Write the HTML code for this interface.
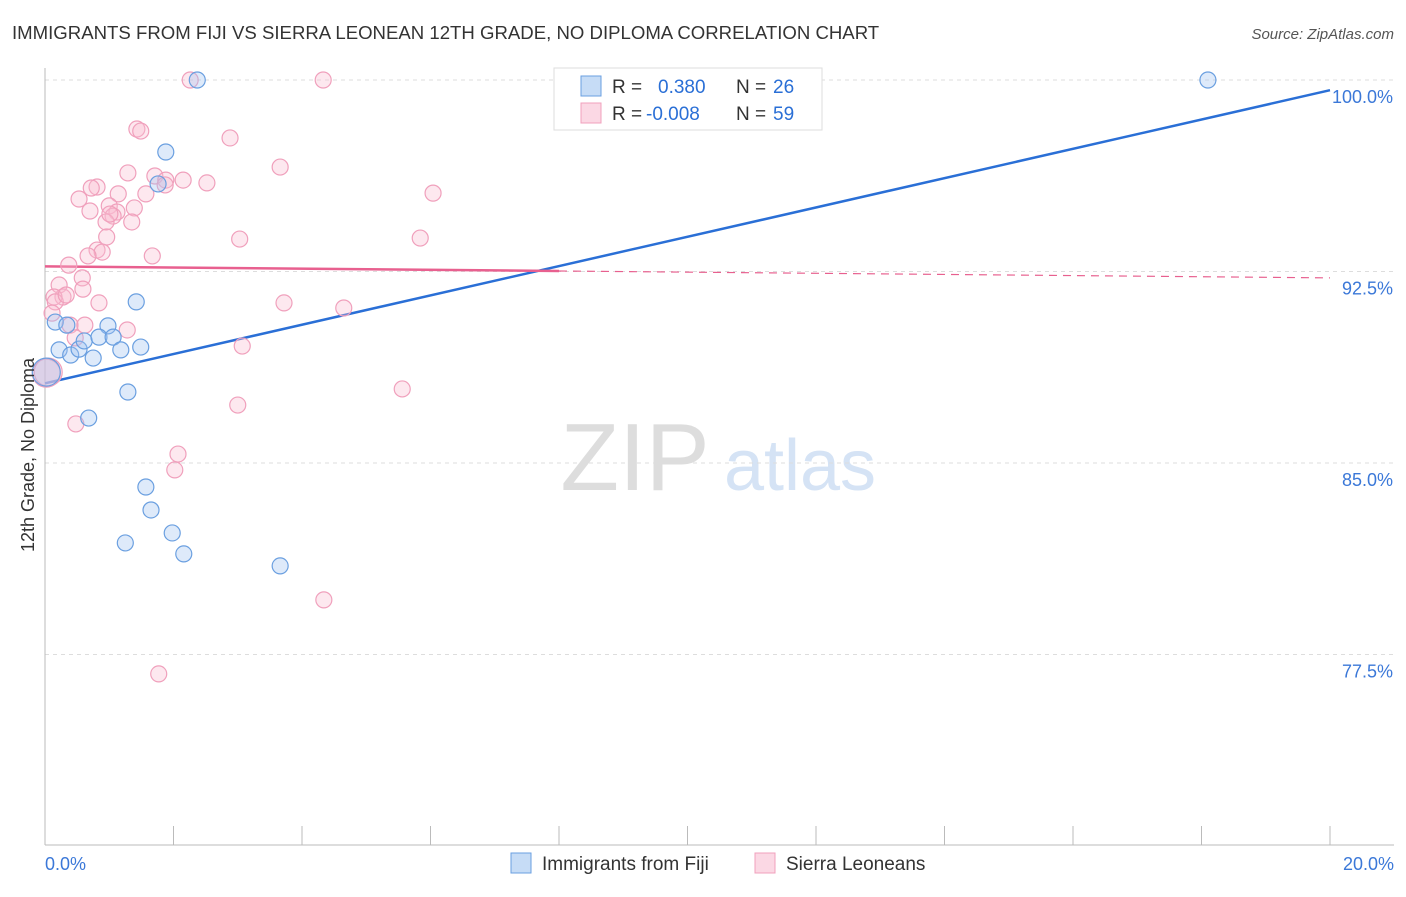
<!DOCTYPE html>
<html><head><meta charset="utf-8">
<style>
body{margin:0;background:#fff;font-family:"Liberation Sans",sans-serif;}
svg text{font-family:"Liberation Sans",sans-serif;}
</style></head>
<body>
<svg id="chart" width="1406" height="892" viewBox="0 0 1406 892" xmlns="http://www.w3.org/2000/svg">
<text x="12" y="39" font-size="18.6" fill="#333">IMMIGRANTS FROM FIJI VS SIERRA LEONEAN 12TH GRADE, NO DIPLOMA CORRELATION CHART</text>
<text x="1394" y="39" font-size="15" fill="#555" text-anchor="end" font-style="italic">Source: ZipAtlas.com</text>
<g>
<text x="635" y="490" font-size="96" fill="#ddd" text-anchor="middle" font-family="Liberation Serif,serif">ZIP</text>
<text x="800" y="490" font-size="72" fill="#d5e3f5" text-anchor="middle">atlas</text>
</g>
<g id="grid"></g>
<g id="axes"></g>
<g id="lines"></g>
<g id="pts"></g>
<text transform="translate(34,455) rotate(-90)" font-size="18" fill="#333" text-anchor="middle">12th Grade, No Diploma</text>
<g>
<rect x="554" y="68" width="268" height="62" fill="#fff" stroke="#ddd"/>
<rect x="581" y="76" width="20" height="20" fill="rgba(160,196,240,0.6)" stroke="#6a9fe0"/>
<rect x="581" y="103" width="20" height="20" fill="rgba(248,190,210,0.6)" stroke="#f0a0bc"/>
<text x="612" y="93" font-size="19" fill="#333">R = </text><text x="658" y="93" font-size="19" fill="#2a6fd6">0.380</text>
<text x="736" y="93" font-size="19" fill="#333">N = </text><text x="773" y="93" font-size="19" fill="#2a6fd6">26</text>
<text x="612" y="120" font-size="19" fill="#333">R = </text><text x="646" y="120" font-size="19" fill="#2a6fd6">-0.008</text>
<text x="736" y="120" font-size="19" fill="#333">N = </text><text x="773" y="120" font-size="19" fill="#2a6fd6">59</text>
</g>
<g>
<rect x="511" y="853" width="20" height="20" fill="rgba(160,196,240,0.6)" stroke="#6a9fe0"/>
<text x="542" y="870" font-size="19" fill="#333">Immigrants from Fiji</text>
<rect x="755" y="853" width="20" height="20" fill="rgba(248,190,210,0.6)" stroke="#f0a0bc"/>
<text x="786" y="870" font-size="19" fill="#333">Sierra Leoneans</text>
</g>
</svg>
<script>
const yTicks=[100,92.5,85,77.5];
const yTickLabels=["100.0%","92.5%","85.0%","77.5%"];
const xTicks=[0,2,4,6,8,10,12,14,16,18,20];
const xEndLabels=["0.0%","20.0%"];
const fijiX=[2.37,18.10,1.88,1.76,1.42,0.16,0.34,0.98,0.22,0.40,0.53,0.61,0.84,1.06,0.75,1.18,1.49,0.02,1.29,0.68,1.57,1.65,1.25,1.98,2.16,3.66];
const fijiY=[100,100,97.18,95.93,91.31,90.52,90.40,90.37,89.43,89.23,89.46,89.78,89.93,89.93,89.11,89.43,89.54,88.56,87.78,86.76,84.06,83.16,81.87,82.26,81.44,80.97];
const sierraX=[2.26,4.33,1.43,1.49,2.88,3.66,1.29,1.71,1.88,2.15,2.52,1.87,0.81,0.72,1.14,1.57,6.04,0.53,1.00,1.39,0.70,1.12,1.06,1.35,0.95,0.96,3.03,5.84,0.81,0.89,0.67,1.67,0.37,0.58,0.22,0.59,0.28,0.14,0.16,0.84,3.72,4.65,0.11,0.39,0.62,1.28,0.47,3.07,0.02,5.56,3.00,0.48,2.07,2.02,4.34,1.77,0.33,0.05,1.01];
const sierraY=[100,100,98.08,98.00,97.73,96.59,96.36,96.24,96.08,96.08,95.97,95.89,95.81,95.77,95.54,95.54,95.57,95.34,95.07,94.99,94.87,94.83,94.67,94.44,94.44,93.85,93.77,93.81,93.34,93.26,93.11,93.11,92.75,92.25,91.97,91.81,91.50,91.50,91.31,91.27,91.27,91.07,90.87,90.40,90.40,90.21,89.90,89.58,88.52,87.90,87.27,86.53,85.35,84.73,79.64,76.74,91.58,88.56,94.75];
const fijiTrend=[88.12,99.6];
const sierraTrend=[92.7,92.25];
const sierraSolidEnd=8.0;

const X=v=>45+v/20*1285;
const Y=v=>80+(100-v)/7.5*191.5;
const NS="http://www.w3.org/2000/svg";
function mk(tag,parent,attrs){const e=document.createElementNS(NS,tag);for(const k in attrs)e.setAttribute(k,attrs[k]);parent.appendChild(e);return e;}
const grid=document.getElementById('grid'),axes=document.getElementById('axes'),lines=document.getElementById('lines'),pts=document.getElementById('pts');
yTicks.forEach((t,i)=>{
 const l=mk('line',grid,{x1:45,x2:1394,y1:Y(t),y2:Y(t),stroke:'#ddd','stroke-dasharray':'4,4'});
 
 
 const tx=mk('text',axes,{x:1393,y:Y(t)+23,'font-size':18,fill:'#3b78d8','text-anchor':'end'});
 tx.textContent=yTickLabels[i];
 
 
});
const ya=mk('line',axes,{x1:45,x2:45,y1:68,y2:845,stroke:'#bbb'});


const xa=mk('line',axes,{x1:45,x2:1394,y1:845,y2:845,stroke:'#bbb'});


xTicks.forEach(t=>{
 const l=mk('line',axes,{x1:X(t),x2:X(t),y1:826,y2:845,stroke:'#bbb'});
 
 
});
const xl0=mk('text',axes,{x:45,y:870,'font-size':18,fill:'#3b78d8'});xl0.textContent=xEndLabels[0];


const xl1=mk('text',axes,{x:1394,y:870,'font-size':18,fill:'#3b78d8','text-anchor':'end'});xl1.textContent=xEndLabels[1];


function dots(xs,ys,fill,stroke,name){
 xs.forEach((x,i)=>{
  const big=x<0.1;
  const c=mk('circle',pts,{cx:X(x),cy:Y(ys[i]),r:big?14:8,fill:fill,stroke:stroke,'stroke-width':1.2});
  
  
 });
}
dots(sierraX,sierraY,'rgba(248,190,210,0.35)','#f0a0bc','point-sierra');
dots(fijiX,fijiY,'rgba(160,196,240,0.35)','#6a9fe0','point-fiji');
const bl=mk('line',lines,{x1:X(0),y1:Y(fijiTrend[0]),x2:X(20),y2:Y(fijiTrend[1]),stroke:'#2a6fd6','stroke-width':2.5});


const ps=v=>sierraTrend[0]+(sierraTrend[1]-sierraTrend[0])*v/20;
const pl=mk('line',lines,{x1:X(0),y1:Y(ps(0)),x2:X(sierraSolidEnd),y2:Y(ps(sierraSolidEnd)),stroke:'#e8608f','stroke-width':2.5});


const pd=mk('line',lines,{x1:X(sierraSolidEnd),y1:Y(ps(sierraSolidEnd)),x2:X(20),y2:Y(ps(20)),stroke:'#e8608f','stroke-width':1.2,'stroke-dasharray':'8,6'});


</script>
</body></html>
